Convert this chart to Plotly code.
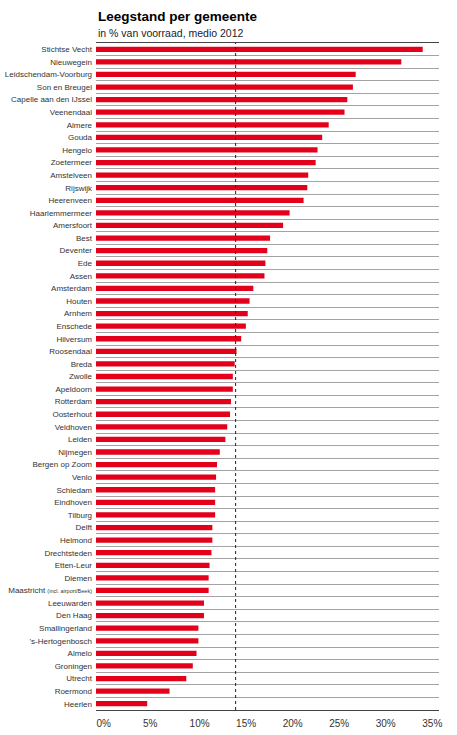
import plotly.graph_objects as go

gemeenten = [
    "Stichtse Vecht", "Nieuwegein", "Leidschendam-Voorburg", "Son en Breugel",
    "Capelle aan den IJssel", "Veenendaal", "Almere", "Gouda", "Hengelo",
    "Zoetermeer", "Amstelveen", "Rijswijk", "Heerenveen", "Haarlemmermeer",
    "Amersfoort", "Best", "Deventer", "Ede", "Assen", "Amsterdam", "Houten",
    "Arnhem", "Enschede", "Hilversum", "Roosendaal", "Breda", "Zwolle",
    "Apeldoorn", "Rotterdam", "Oosterhout", "Veldhoven", "Leiden", "Nijmegen",
    "Bergen op Zoom", "Venlo", "Schiedam", "Eindhoven", "Tilburg", "Delft",
    "Helmond", "Drechtsteden", "Etten-Leur", "Diemen",
    "Maastricht <span style=\"font-size:5.5px\">(incl. airport/Beek)</span>",
    "Leeuwarden", "Den Haag", "Smallingerland", "'s-Hertogenbosch", "Almelo",
    "Groningen", "Utrecht", "Roermond", "Heerlen",
]

leegstand = [
    35.1, 32.8, 27.9, 27.6, 27.0, 26.7, 25.0, 24.3, 23.8, 23.6, 22.8, 22.7,
    22.3, 20.8, 20.1, 18.7, 18.4, 18.2, 18.1, 16.9, 16.5, 16.3, 16.1, 15.6,
    15.1, 14.9, 14.7, 14.7, 14.5, 14.4, 14.1, 13.9, 13.3, 13.0, 12.9, 12.8,
    12.8, 12.8, 12.5, 12.5, 12.4, 12.2, 12.1, 12.1, 11.6, 11.6, 11.0, 11.0,
    10.8, 10.4, 9.7, 7.9, 5.5,
]

gemiddelde = 15.0

x_tickvals = [0, 5, 10, 15, 20, 25, 30, 35]
x_ticktext = ["0%", "5%", "10%", "15%", "20%", "25%", "30%", "35%"]

title = "<b>Leegstand per gemeente</b>"
subtitle = "in % van voorraad, medio 2012"

fig = go.Figure()
fig.add_trace(go.Bar(
    x=leegstand, y=gemeenten, orientation="h",
    marker=dict(color="#e2001a", line=dict(width=0)),
    width=0.42,
))

fig.add_shape(type="line", xref="x", yref="paper",
              x0=gemiddelde, x1=gemiddelde, y0=0, y1=1,
              line=dict(color="#222222", width=1, dash="3px,3px"))

fig.update_layout(
    width=457, height=735,
    margin=dict(l=96, r=18, t=43, b=25, autoexpand=False),
    paper_bgcolor="white", plot_bgcolor="white",
    showlegend=False,
    font=dict(family="Liberation Sans, Arial, sans-serif", color="#333333"),
    annotations=[
        dict(text=title, xref="paper", yref="paper", x=0, y=1,
             xanchor="left", yanchor="bottom", yshift=17, xshift=0,
             showarrow=False, font=dict(size=13.5, color="#000000")),
        dict(text=subtitle, xref="paper", yref="paper", x=0, y=1,
             xanchor="left", yanchor="bottom", yshift=2, xshift=0,
             showarrow=False, font=dict(size=10.5, color="#222222")),
    ],
)

fig.update_xaxes(
    range=[0, 36.85], tickvals=x_tickvals, ticktext=x_ticktext,
    ticklabelposition="outside right", ticks="",
    showgrid=False, zeroline=False, automargin=False,
    showline=True, linecolor="#444444", linewidth=1, mirror=True,
    tickfont=dict(size=10, color="#333333"),
    ticklabelstandoff=4,
)

fig.update_yaxes(
    type="category", autorange="reversed", automargin=False,
    tickson="boundaries", ticks="", showgrid=True,
    gridcolor="#a3a3a3", gridwidth=1,
    showline=False, zeroline=False,
    tickfont=dict(size=8, color="#333333"),
    ticklabelstandoff=3,
)

# remove the default 8px body margin so the figure sits at the page origin
fig.write_html("out.html", config={"displayModeBar": False},
               post_script="document.body.style.margin='0px';")
